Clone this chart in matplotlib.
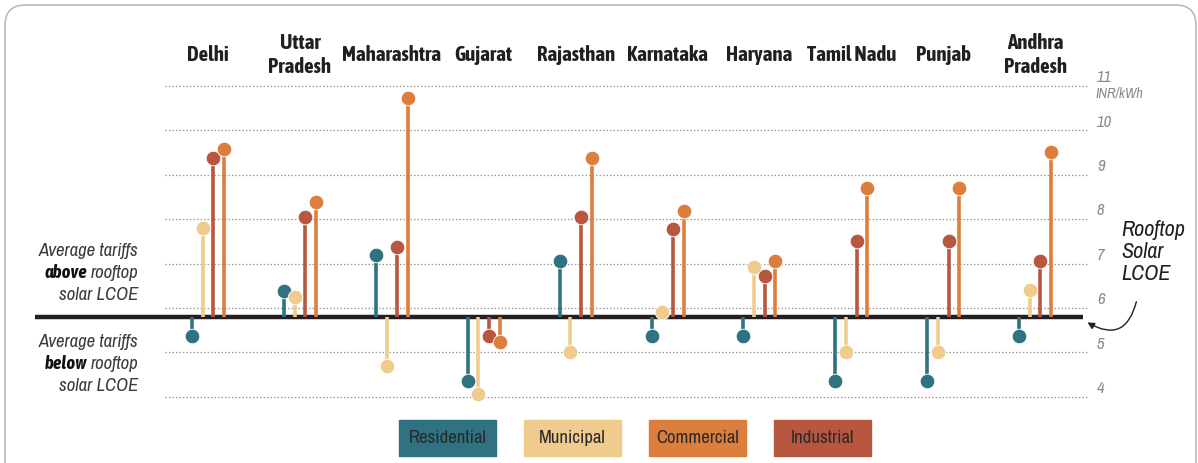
import matplotlib
matplotlib.use("Agg")
import matplotlib.pyplot as plt
import matplotlib.patheffects as pe
from matplotlib.patches import FancyBboxPatch, Rectangle
from matplotlib import font_manager

# data (INR/kWh)
states = ["Delhi", "Uttar\nPradesh", "Maharashtra", "Gujarat", "Rajasthan",
          "Karnataka", "Haryana", "Tamil Nadu", "Punjab", "Andhra\nPradesh"]
residential = [5.37, 6.38, 7.19, 4.36, 7.05, 5.37, 5.37, 4.36, 4.36, 5.37]
municipal = [7.80, 6.25, 4.70, 4.07, 5.00, 5.91, 6.92, 5.00, 5.00, 6.41]
industrial = [9.38, 8.05, 7.38, 5.37, 8.04, 7.77, 6.71, 7.50, 7.50, 7.06]
commercial = [9.59, 8.39, 10.74, 5.23, 9.38, 8.18, 7.06, 8.71, 8.71, 9.51]
lcoe = 5.8
yticks = [4, 5, 6, 7, 8, 9, 10, 11]

series = [("Residential", residential, "#2f7282"),
          ("Municipal", municipal, "#efcb8d"),
          ("Industrial", industrial, "#b9563f"),
          ("Commercial", commercial, "#dc7f3c")]
legend_order = ["Residential", "Municipal", "Commercial", "Industrial"]

# look for a condensed face, preferring one that has a real bold
fonts = font_manager.fontManager.ttflist
cond = sorted({f.name for f in fonts if "Condensed" in f.name or "Narrow" in f.name})
bold_cond = sorted({f.name for f in fonts
                    if ("Condensed" in f.name or "Narrow" in f.name)
                    and (f.weight in ("bold", 700, 800, 900) or
                         (isinstance(f.weight, int) and f.weight >= 600))})
narrow = cond[0] if cond else "Roboto"
head_font = bold_cond[0] if bold_cond else narrow
fake_bold = not bold_cond
plt.rcParams["font.family"] = [narrow, "Roboto", "DejaVu Sans"]

W, H = 1198, 463
fig = plt.figure(figsize=(W / 100, H / 100), dpi=100)
ax = fig.add_axes([0, 0, 1, 1])
ax.axis("off")

# map pixel layout onto data units: 44.4 px per INR, 91.9 px per state
ppu = 44.4
gap = 91.9
ax.set_ylim(11 - (H - 86) / ppu, 11 + 86 / ppu)
ax.set_xlim(-208 / gap, (W - 208) / gap)


def px(x):
    return (x - 208) / gap


def py(y):
    return 11 - (y - 86) / ppu


offsets = [-16, -5.3, 5.3, 16]

for y in yticks:
    ax.plot([px(165), px(1088)], [y, y], color="#9a9a9a", lw=0.9,
            ls=(0, (1.2, 1.6)), zorder=1)
    ax.text(px(1097), y + 0.02, str(y), color="#8a8a8a", fontsize=12,
            style="italic", ha="left", va="bottom")
ax.text(px(1095), 11 - 0.02, "INR/kWh", color="#8a8a8a", fontsize=10.5,
        style="italic", ha="left", va="top")

ax.plot([px(35), px(1083)], [lcoe, lcoe], color="#231f20", lw=3.2,
        solid_capstyle="butt", zorder=2)

for k, (name, vals, col) in enumerate(series):
    for i, v in enumerate(vals):
        x = i + offsets[k] / gap
        ax.plot([x, x], [lcoe, v], color=col, lw=2.6, zorder=3,
                solid_capstyle="butt")
        ax.plot(x, v, "o", color=col, ms=10.5, mec="white", mew=0.6, zorder=4)

head_fx = [pe.withStroke(linewidth=1.1, foreground="#231f20")] if fake_bold else None
for i, s in enumerate(states):
    ax.text(i, py(55), s, ha="center", va="center", fontsize=15,
            fontweight="bold", color="#231f20", linespacing=1.25,
            family=[head_font, "DejaVu Sans"], path_effects=head_fx)

# left annotations
txt_col = "#3a3a3a"
lsize = 13.5
fig.canvas.draw()
r = fig.canvas.get_renderer()


def mixed_line(y, bold, rest):
    t = ax.text(px(138), y, rest, ha="right", va="center", fontsize=lsize,
                style="italic", color=txt_col)
    w = t.get_window_extent(r).width
    ax.text(px(138 - w - 3), y, bold, ha="right", va="center", fontsize=lsize,
            style="italic", fontweight="bold", color="#111111",
            family=[head_font, "DejaVu Sans"])


for y0, word in [(251, "above"), (342, "below")]:
    ax.text(px(138), py(y0), "Average tariffs", ha="right",
            va="center", fontsize=lsize, style="italic", color=txt_col)
    mixed_line(py(y0 + 22), word, "rooftop")
    ax.text(px(138), py(y0 + 44), "solar LCOE", ha="right",
            va="center", fontsize=lsize, style="italic", color=txt_col)

# rooftop solar LCOE label with arrow
ax.text(px(1121), py(252), "Rooftop\nSolar\nLCOE", ha="left",
        va="center", fontsize=16, style="italic", color="#231f20",
        linespacing=1.1)
ax.annotate("", xy=(px(1085), py(321)), xytext=(px(1137), py(299)),
            arrowprops=dict(arrowstyle="-|>", color="#231f20", lw=1.0,
                            mutation_scale=10,
                            connectionstyle="arc3,rad=-0.7"))

# legend boxes
cols = {n: c for n, _, c in series}
for j, name in enumerate(legend_order):
    x0 = 399 + j * 125
    fig.add_artist(Rectangle((x0 / W, 1 - 456 / H), 97 / W, 36 / H,
                             transform=fig.transFigure, color=cols[name]))
    fig.text((x0 + 48.5) / W, 1 - 438 / H, name, ha="center", va="center",
             fontsize=13.5, color="#2a2a2a")

# rounded frame
fig.add_artist(FancyBboxPatch((5 / W, -20 / H), 1191 / W, (H + 20 - 5) / H,
                              boxstyle="round,pad=0,rounding_size=0.017",
                              transform=fig.transFigure, fill=False,
                              ec="#bbbbbb", lw=1.2, mutation_aspect=W / H))

fig.savefig("out.png", dpi=100)
